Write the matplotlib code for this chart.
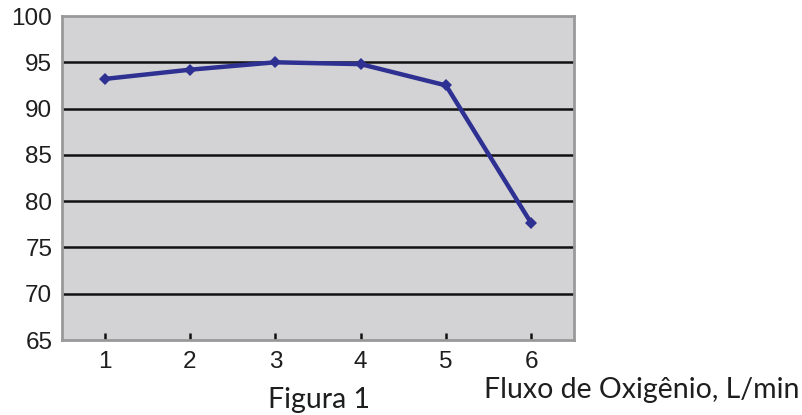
import numpy as np
import matplotlib
matplotlib.use('Agg')
import matplotlib.pyplot as plt

plt.rcParams['font.family'] = ['Liberation Sans', 'DejaVu Sans']

# data
fluxo = [1, 2, 3, 4, 5, 6]
valores = [93.2, 94.2, 95.0, 94.8, 92.5, 77.6]
y_ticks = [65, 70, 75, 80, 85, 90, 95, 100]

fig = plt.figure(figsize=(8.02, 4.15), dpi=100)
ax = fig.add_axes([62/802, 1 - 340/415, (574-62)/802, (340-16)/415])
ax.set_facecolor('#d3d3d6')

for v in y_ticks[1:-1]:
    ax.axhline(v, color='#111111', lw=1.8, zorder=1)

ax.plot(fluxo, valores, color='#2e3192', lw=3.2, marker='D', ms=6.5,
        markeredgewidth=0, zorder=3)

ax.set_xlim(0.5, 6.5)
ax.set_ylim(65, 100)
ax.set_xticks(fluxo)
ax.set_yticks(y_ticks)
ax.tick_params(axis='x', direction='in', length=5, width=1.8, color='#111111',
               pad=8, labelsize=17.5, labelcolor='#1e1e1e')
ax.tick_params(axis='y', length=0, pad=7, labelsize=17.5, labelcolor='#1e1e1e')
for s in ax.spines.values():
    s.set_color('#999999')
    s.set_linewidth(2)

fig.text(484/802, 1 - 398/415, 'Fluxo de Oxigênio, L/min', fontsize=20.5,
         family='Lato', color='#1e1e1e', ha='left', va='baseline')
fig.text(319/802, 1 - 408/415, 'Figura 1', fontsize=20.5,
         family='Lato', color='#1e1e1e', ha='center', va='baseline')

fig.savefig('out.png', dpi=100)
